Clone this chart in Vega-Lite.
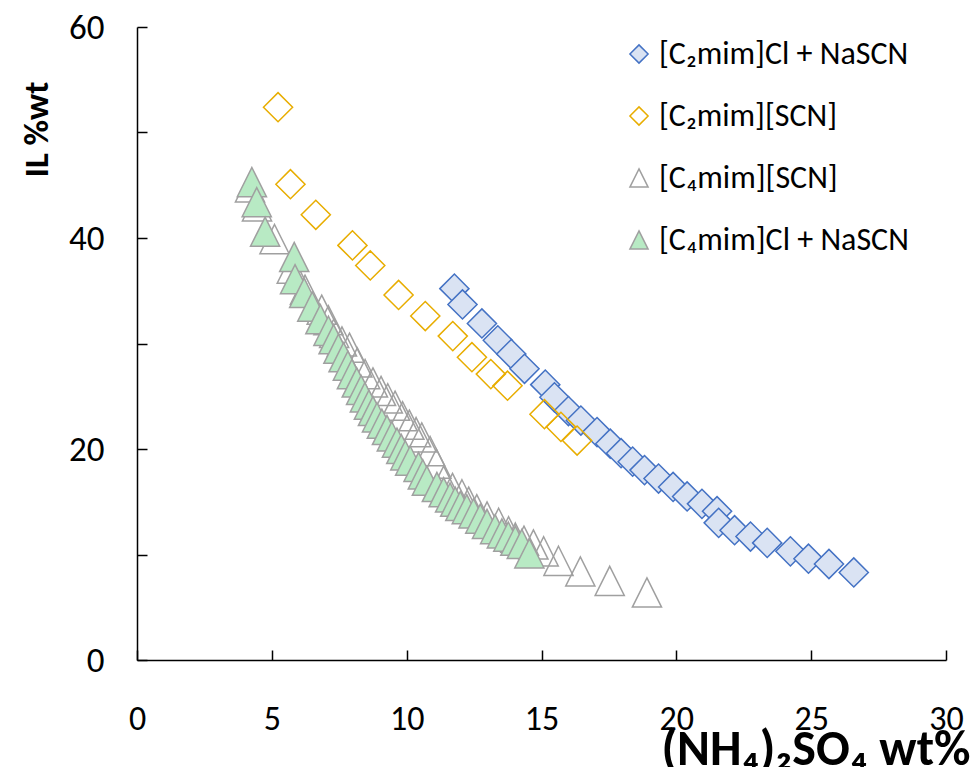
{
  "$schema": "https://vega.github.io/schema/vega-lite/v6.json",
  "width": 809,
  "height": 633,
  "autosize": {"type": "none"},
  "padding": {"left": 137, "top": 27, "right": 29, "bottom": 107},
  "background": "white",
  "config": {
    "view": {"stroke": null},
    "font": "Carlito, 'Liberation Sans Narrow', Lato, sans-serif"
  },
  "data": {
    "values": [
      {"series": "[C₂mim]Cl + NaSCN", "salt": 11.77, "il": 35.2},
      {"series": "[C₂mim]Cl + NaSCN", "salt": 12.07, "il": 33.7},
      {"series": "[C₂mim]Cl + NaSCN", "salt": 12.79, "il": 31.9},
      {"series": "[C₂mim]Cl + NaSCN", "salt": 13.38, "il": 30.3},
      {"series": "[C₂mim]Cl + NaSCN", "salt": 13.88, "il": 29.0},
      {"series": "[C₂mim]Cl + NaSCN", "salt": 14.37, "il": 27.6},
      {"series": "[C₂mim]Cl + NaSCN", "salt": 15.14, "il": 26.1},
      {"series": "[C₂mim]Cl + NaSCN", "salt": 15.48, "il": 24.9},
      {"series": "[C₂mim]Cl + NaSCN", "salt": 16.0, "il": 23.6},
      {"series": "[C₂mim]Cl + NaSCN", "salt": 16.46, "il": 22.7},
      {"series": "[C₂mim]Cl + NaSCN", "salt": 17.06, "il": 21.6},
      {"series": "[C₂mim]Cl + NaSCN", "salt": 17.55, "il": 20.5},
      {"series": "[C₂mim]Cl + NaSCN", "salt": 17.95, "il": 19.6},
      {"series": "[C₂mim]Cl + NaSCN", "salt": 18.38, "il": 18.8},
      {"series": "[C₂mim]Cl + NaSCN", "salt": 18.82, "il": 18.0},
      {"series": "[C₂mim]Cl + NaSCN", "salt": 19.34, "il": 17.2},
      {"series": "[C₂mim]Cl + NaSCN", "salt": 19.88, "il": 16.4},
      {"series": "[C₂mim]Cl + NaSCN", "salt": 20.4, "il": 15.5},
      {"series": "[C₂mim]Cl + NaSCN", "salt": 20.95, "il": 14.8},
      {"series": "[C₂mim]Cl + NaSCN", "salt": 21.51, "il": 14.1},
      {"series": "[C₂mim]Cl + NaSCN", "salt": 21.57, "il": 13.0},
      {"series": "[C₂mim]Cl + NaSCN", "salt": 22.16, "il": 12.3},
      {"series": "[C₂mim]Cl + NaSCN", "salt": 22.75, "il": 11.7},
      {"series": "[C₂mim]Cl + NaSCN", "salt": 23.37, "il": 11.1},
      {"series": "[C₂mim]Cl + NaSCN", "salt": 24.23, "il": 10.3},
      {"series": "[C₂mim]Cl + NaSCN", "salt": 24.9, "il": 9.6},
      {"series": "[C₂mim]Cl + NaSCN", "salt": 25.66, "il": 9.1},
      {"series": "[C₂mim]Cl + NaSCN", "salt": 26.58, "il": 8.3},
      {"series": "[C₂mim][SCN]", "salt": 5.23, "il": 52.4},
      {"series": "[C₂mim][SCN]", "salt": 5.69, "il": 45.1},
      {"series": "[C₂mim][SCN]", "salt": 6.63, "il": 42.2},
      {"series": "[C₂mim][SCN]", "salt": 7.99, "il": 39.3},
      {"series": "[C₂mim][SCN]", "salt": 8.65, "il": 37.4},
      {"series": "[C₂mim][SCN]", "salt": 9.7, "il": 34.6},
      {"series": "[C₂mim][SCN]", "salt": 10.69, "il": 32.6},
      {"series": "[C₂mim][SCN]", "salt": 11.71, "il": 30.7},
      {"series": "[C₂mim][SCN]", "salt": 12.42, "il": 28.7},
      {"series": "[C₂mim][SCN]", "salt": 13.12, "il": 27.1},
      {"series": "[C₂mim][SCN]", "salt": 13.74, "il": 26.0},
      {"series": "[C₂mim][SCN]", "salt": 15.11, "il": 23.3},
      {"series": "[C₂mim][SCN]", "salt": 15.72, "il": 22.1},
      {"series": "[C₂mim][SCN]", "salt": 16.32, "il": 20.8},
      {"series": "[C₄mim][SCN]", "salt": 4.19, "il": 44.8},
      {"series": "[C₄mim][SCN]", "salt": 4.45, "il": 43.0},
      {"series": "[C₄mim][SCN]", "salt": 5.1, "il": 39.9},
      {"series": "[C₄mim][SCN]", "salt": 5.74, "il": 37.1},
      {"series": "[C₄mim][SCN]", "salt": 6.23, "il": 35.1},
      {"series": "[C₄mim][SCN]", "salt": 6.85, "il": 33.2},
      {"series": "[C₄mim][SCN]", "salt": 7.1, "il": 32.2},
      {"series": "[C₄mim][SCN]", "salt": 7.31, "il": 31.0},
      {"series": "[C₄mim][SCN]", "salt": 7.6, "il": 30.2},
      {"series": "[C₄mim][SCN]", "salt": 7.88, "il": 29.6},
      {"series": "[C₄mim][SCN]", "salt": 8.17, "il": 28.2},
      {"series": "[C₄mim][SCN]", "salt": 8.46, "il": 27.1},
      {"series": "[C₄mim][SCN]", "salt": 8.75, "il": 26.3},
      {"series": "[C₄mim][SCN]", "salt": 9.05, "il": 25.5},
      {"series": "[C₄mim][SCN]", "salt": 9.3, "il": 24.8},
      {"series": "[C₄mim][SCN]", "salt": 9.57, "il": 24.1},
      {"series": "[C₄mim][SCN]", "salt": 9.85, "il": 23.1},
      {"series": "[C₄mim][SCN]", "salt": 10.1, "il": 22.3},
      {"series": "[C₄mim][SCN]", "salt": 10.35, "il": 21.6},
      {"series": "[C₄mim][SCN]", "salt": 10.56, "il": 21.1},
      {"series": "[C₄mim][SCN]", "salt": 10.87, "il": 19.8},
      {"series": "[C₄mim][SCN]", "salt": 11.1, "il": 18.6},
      {"series": "[C₄mim][SCN]", "salt": 11.37, "il": 17.0},
      {"series": "[C₄mim][SCN]", "salt": 11.7, "il": 16.3},
      {"series": "[C₄mim][SCN]", "salt": 12.05, "il": 15.7},
      {"series": "[C₄mim][SCN]", "salt": 12.3, "il": 15.0},
      {"series": "[C₄mim][SCN]", "salt": 12.6, "il": 14.3},
      {"series": "[C₄mim][SCN]", "salt": 12.98, "il": 13.6},
      {"series": "[C₄mim][SCN]", "salt": 13.41, "il": 13.0},
      {"series": "[C₄mim][SCN]", "salt": 13.78, "il": 12.2},
      {"series": "[C₄mim][SCN]", "salt": 14.03, "il": 11.6},
      {"series": "[C₄mim][SCN]", "salt": 14.35, "il": 11.3},
      {"series": "[C₄mim][SCN]", "salt": 14.7, "il": 10.95},
      {"series": "[C₄mim][SCN]", "salt": 15.08, "il": 10.3},
      {"series": "[C₄mim][SCN]", "salt": 15.63, "il": 9.4},
      {"series": "[C₄mim][SCN]", "salt": 16.44, "il": 8.4},
      {"series": "[C₄mim][SCN]", "salt": 17.53, "il": 7.5},
      {"series": "[C₄mim][SCN]", "salt": 18.91, "il": 6.4},
      {"series": "[C₄mim]Cl + NaSCN", "salt": 4.26, "il": 45.3},
      {"series": "[C₄mim]Cl + NaSCN", "salt": 4.44, "il": 43.4},
      {"series": "[C₄mim]Cl + NaSCN", "salt": 4.75, "il": 40.6},
      {"series": "[C₄mim]Cl + NaSCN", "salt": 5.83, "il": 38.2},
      {"series": "[C₄mim]Cl + NaSCN", "salt": 5.86, "il": 36.1},
      {"series": "[C₄mim]Cl + NaSCN", "salt": 6.2, "il": 34.8},
      {"series": "[C₄mim]Cl + NaSCN", "salt": 6.5, "il": 33.5},
      {"series": "[C₄mim]Cl + NaSCN", "salt": 6.8, "il": 32.3},
      {"series": "[C₄mim]Cl + NaSCN", "salt": 7.1, "il": 31.2},
      {"series": "[C₄mim]Cl + NaSCN", "salt": 7.29, "il": 30.4},
      {"series": "[C₄mim]Cl + NaSCN", "salt": 7.47, "il": 29.5},
      {"series": "[C₄mim]Cl + NaSCN", "salt": 7.66, "il": 28.7},
      {"series": "[C₄mim]Cl + NaSCN", "salt": 7.82, "il": 27.9},
      {"series": "[C₄mim]Cl + NaSCN", "salt": 7.97, "il": 27.1},
      {"series": "[C₄mim]Cl + NaSCN", "salt": 8.15, "il": 26.3},
      {"series": "[C₄mim]Cl + NaSCN", "salt": 8.31, "il": 25.6},
      {"series": "[C₄mim]Cl + NaSCN", "salt": 8.45, "il": 24.9},
      {"series": "[C₄mim]Cl + NaSCN", "salt": 8.6, "il": 24.2},
      {"series": "[C₄mim]Cl + NaSCN", "salt": 8.75, "il": 23.6},
      {"series": "[C₄mim]Cl + NaSCN", "salt": 8.9, "il": 23.0},
      {"series": "[C₄mim]Cl + NaSCN", "salt": 9.08, "il": 22.4},
      {"series": "[C₄mim]Cl + NaSCN", "salt": 9.27, "il": 21.8},
      {"series": "[C₄mim]Cl + NaSCN", "salt": 9.45, "il": 21.2},
      {"series": "[C₄mim]Cl + NaSCN", "salt": 9.64, "il": 20.6},
      {"series": "[C₄mim]Cl + NaSCN", "salt": 9.8, "il": 20.0},
      {"series": "[C₄mim]Cl + NaSCN", "salt": 9.95, "il": 19.4},
      {"series": "[C₄mim]Cl + NaSCN", "salt": 10.13, "il": 18.9},
      {"series": "[C₄mim]Cl + NaSCN", "salt": 10.44, "il": 18.3},
      {"series": "[C₄mim]Cl + NaSCN", "salt": 10.6, "il": 17.6},
      {"series": "[C₄mim]Cl + NaSCN", "salt": 10.75, "il": 17.0},
      {"series": "[C₄mim]Cl + NaSCN", "salt": 11.12, "il": 16.4},
      {"series": "[C₄mim]Cl + NaSCN", "salt": 11.37, "il": 15.9},
      {"series": "[C₄mim]Cl + NaSCN", "salt": 11.61, "il": 15.4},
      {"series": "[C₄mim]Cl + NaSCN", "salt": 11.8, "il": 15.0},
      {"series": "[C₄mim]Cl + NaSCN", "salt": 11.99, "il": 14.6},
      {"series": "[C₄mim]Cl + NaSCN", "salt": 12.23, "il": 14.3},
      {"series": "[C₄mim]Cl + NaSCN", "salt": 12.48, "il": 13.9},
      {"series": "[C₄mim]Cl + NaSCN", "salt": 12.73, "il": 13.4},
      {"series": "[C₄mim]Cl + NaSCN", "salt": 12.98, "il": 12.9},
      {"series": "[C₄mim]Cl + NaSCN", "salt": 13.28, "il": 12.4},
      {"series": "[C₄mim]Cl + NaSCN", "salt": 13.53, "il": 12.0},
      {"series": "[C₄mim]Cl + NaSCN", "salt": 13.77, "il": 11.7},
      {"series": "[C₄mim]Cl + NaSCN", "salt": 14.03, "il": 11.3},
      {"series": "[C₄mim]Cl + NaSCN", "salt": 14.27, "il": 11.0},
      {"series": "[C₄mim]Cl + NaSCN", "salt": 14.55, "il": 10.1}
    ]
  },
  "mark": {"type": "point", "strokeWidth": 1.5, "opacity": 1, "size": 850},
  "encoding": {
    "x": {
      "field": "salt", "type": "quantitative",
      "scale": {"domain": [0, 30], "nice": false},
      "axis": {
        "values": [0, 5, 10, 15, 20, 25, 30],
        "grid": false, "tickSize": -10, "tickColor": "black", "tickWidth": 1.5,
        "domainColor": "black", "domainWidth": 1.5,
        "labelFontSize": 34, "labelColor": "black", "labelPadding": 52, "labelFlush": false,
        "title": "(NH₄)₂SO₄ wt%", "titleFontSize": 50, "titleFontWeight": "bold", "titleColor": "black",
        "titleX": 833, "titleY": 104, "titleAlign": "right", "titleBaseline": "alphabetic", "titleAnchor": null
      }
    },
    "y": {
      "field": "il", "type": "quantitative",
      "scale": {"domain": [0, 60], "nice": false},
      "axis": {
        "values": [0, 10, 20, 30, 40, 50, 60],
        "labelExpr": "datum.value % 20 === 0 ? datum.label : ''",
        "grid": false, "tickSize": -10, "tickColor": "black", "tickWidth": 1.5,
        "domainColor": "black", "domainWidth": 1.5,
        "labelFontSize": 35, "labelColor": "black", "labelPadding": 43, "labelFlush": false,
        "title": "IL %wt", "titleFontSize": 35, "titleFontWeight": "bold", "titleColor": "black",
        "titleX": -101, "titleY": 102, "titleAlign": "center", "titleBaseline": "middle", "titleAngle": -90, "titleAnchor": null
      }
    },
    "shape": {
      "field": "series", "type": "nominal",
      "scale": {"domain": ["[C₂mim]Cl + NaSCN", "[C₂mim][SCN]", "[C₄mim][SCN]", "[C₄mim]Cl + NaSCN"], "range": ["diamond", "diamond", "M0,-1L1,1L-1,1Z", "M0,-1L1,1L-1,1Z"]},
      "legend": {"title": null, "orient": "none", "legendX": 486, "legendY": 11, "padding": 0, "symbolSize": 330, "symbolStrokeWidth": 1.5, "labelFontSize": 32, "labelColor": "black", "labelOffset": 4, "rowPadding": 30, "labelLimit": 400}
    },
    "fill": {
      "field": "series", "type": "nominal",
      "scale": {"domain": ["[C₂mim]Cl + NaSCN", "[C₂mim][SCN]", "[C₄mim][SCN]", "[C₄mim]Cl + NaSCN"], "range": ["#dae3f3", "transparent", "transparent", "#b8eac4"]},
      "legend": {"title": null, "orient": "none", "legendX": 486, "legendY": 11, "padding": 0, "symbolSize": 330, "symbolStrokeWidth": 1.5, "labelFontSize": 32, "labelColor": "black", "labelOffset": 4, "rowPadding": 30, "labelLimit": 400}
    },
    "stroke": {
      "field": "series", "type": "nominal",
      "scale": {"domain": ["[C₂mim]Cl + NaSCN", "[C₂mim][SCN]", "[C₄mim][SCN]", "[C₄mim]Cl + NaSCN"], "range": ["#4472c4", "#e8ad00", "#a0a0a0", "#a0a0a0"]},
      "legend": {"title": null, "orient": "none", "legendX": 486, "legendY": 11, "padding": 0, "symbolSize": 330, "symbolStrokeWidth": 1.5, "labelFontSize": 32, "labelColor": "black", "labelOffset": 4, "rowPadding": 30, "labelLimit": 400}
    }
  }
}
